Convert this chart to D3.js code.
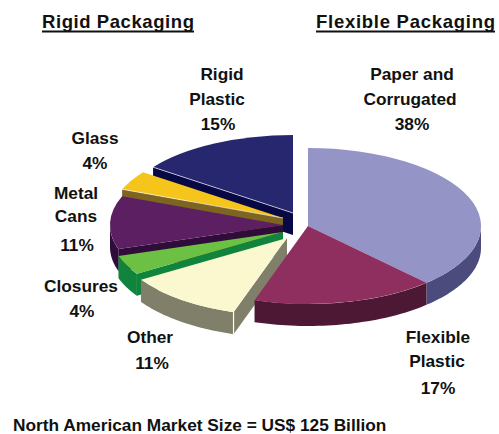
<!DOCTYPE html>
<html>
<head>
<meta charset="utf-8">
<script src="https://cdn.jsdelivr.net/npm/d3@7"></script>
<style>
  html, body { margin: 0; padding: 0; background: #fff; }
  svg { display: block; }
  text { font-family: "Liberation Sans", Arial, sans-serif; font-weight: bold; fill: #111; }
</style>
</head>
<body>
<svg id="chart" width="499" height="434"></svg>
<script>
// Market share by packaging type, in percent, clockwise from twelve o'clock
const categories = ["Paper and Corrugated", "Flexible Plastic", "Other", "Closures", "Metal Cans", "Glass", "Rigid Plastic"];
const shares = [38, 17, 11, 4, 11, 4, 15];
const topColors = ["#9494c6", "#8f2f5f", "#fbf8cf", "#6cc044", "#5c1f61", "#f6c51b", "#272770"];
const wallColors = ["#4b4b7d", "#4c1833", "#80806a", "#10833d", "#2f0c3a", "#7d6420", "#080845"];
const headings = ["Rigid Packaging", "Flexible Packaging"];
const footnote = "North American Market Size = US$ 125 Billion";

// Layout of the tilted pie
const rx = 173, ry = 78, depth = 22;
const apexes = [[308, 226], [308, 226], [287, 238], [283, 232], [283, 225], [283, 218], [293, 213]];
const labelLines = [["Paper and", "Corrugated"], ["Flexible", "Plastic"], ["Other"], ["Closures"], ["Metal", "Cans"], ["Glass"], ["Rigid", "Plastic"]];
const labelCentres = [[412, 410, 412], [438, 437, 438], [150, 152], [81, 82], [76, 76, 77], [95, 95], [222, 217, 218]];
const labelBaselines = [[80, 105, 130], [343, 367, 394], [343, 369], [292, 317], [199, 222, 251], [144, 169], [80, 105, 130]];
const drawOrder = [6, 5, 4, 3, 2, 0, 1];

const svg = d3.select("#chart");

const slices = d3.pie().sort(null)(shares);
const arc = d3.arc().innerRadius(0).outerRadius(rx);
const path = d3.line();

// Point on the rim of a slice, in page coordinates
const rim = (i, angle, drop = 0) => [
  apexes[i][0] + rx * Math.sin(angle),
  apexes[i][1] - ry * Math.cos(angle) + drop
];

// Outer wall, for the part of the rim that faces the viewer
function outerWall(i) {
  const from = Math.max(slices[i].startAngle, Math.PI / 2);
  const to = Math.min(slices[i].endAngle, Math.PI * 1.5);
  if (to <= from) return null;
  const steps = d3.range(0, 41).map(k => from + (to - from) * k / 40);
  return path([...steps.map(a => rim(i, a)), ...steps.reverse().map(a => rim(i, a, depth))]) + "Z";
}

// Flat wall along one cut edge of a slice
function cutWall(i, angle) {
  const [ax, ay] = apexes[i];
  return path([[ax, ay], rim(i, angle), rim(i, angle, depth), [ax, ay + depth]]) + "Z";
}

// Cut edges that turn towards the viewer, as [slice, angle]
const visibleCuts = new Map([
  [6, [slices[6].startAngle, slices[6].endAngle]],
  [5, [slices[5].startAngle]],
  [4, [slices[4].startAngle]],
  [3, [slices[3].startAngle]],
  [2, [slices[2].startAngle]]
]);

const layer = svg.append("g");
drawOrder.forEach(i => {
  const g = layer.append("g");
  (visibleCuts.get(i) || []).forEach(a => g.append("path").attr("d", cutWall(i, a)).attr("fill", wallColors[i]));
  const wall = outerWall(i);
  if (wall) g.append("path").attr("d", wall).attr("fill", wallColors[i]);
  g.append("path")
    .attr("d", arc(slices[i]))
    .attr("transform", `translate(${apexes[i][0]},${apexes[i][1]}) scale(1,${ry / rx})`)
    .attr("fill", topColors[i]);
});

// Pale highlights on the front edges of the separated slices
[[6, slices[6].startAngle], [5, slices[5].startAngle]].forEach(([i, a]) => {
  svg.append("path").attr("d", path([apexes[i], rim(i, a)]))
    .attr("stroke", "#fff").attr("stroke-opacity", 0.8).attr("stroke-width", 0.8).attr("fill", "none");
});
const corner = rim(2, slices[2].startAngle);
svg.append("line")
  .attr("x1", corner[0]).attr("y1", corner[1])
  .attr("x2", corner[0]).attr("y2", corner[1] + depth)
  .attr("stroke", "#fff").attr("stroke-width", 1.2);

// Category labels with their percentages
categories.forEach((c, i) => {
  const lines = [...labelLines[i], `${shares[i]}%`];
  lines.forEach((t, k) => {
    svg.append("text")
      .attr("x", labelCentres[i][k]).attr("y", labelBaselines[i][k])
      .attr("text-anchor", "middle").attr("font-size", 17.3).text(t);
  });
});

// Group headings
[[42, 194], [316, 495]].forEach(([x0, x1], i) => {
  svg.append("text").attr("x", x0).attr("y", 28)
    .attr("font-size", 18.5).attr("textLength", x1 - x0).attr("lengthAdjust", "spacing").text(headings[i]);
  svg.append("line").attr("x1", x0).attr("x2", x1).attr("y1", 31.5).attr("y2", 31.5)
    .attr("stroke", "#111").attr("stroke-width", 1.8);
});

svg.append("text").attr("x", 13).attr("y", 431).attr("font-size", 17.3).text(footnote);
</script>
</body>
</html>
